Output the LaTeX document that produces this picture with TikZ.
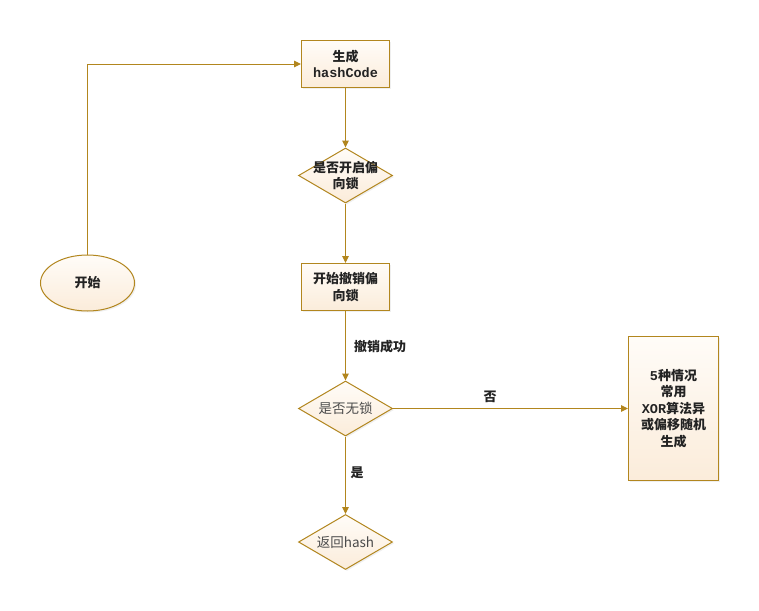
\documentclass[tikz,border=0pt]{standalone}
\usepackage{fontspec}
\newfontfamily\cjk{Noto Sans CJK SC}
\newfontfamily\monof{Liberation Mono}
\usetikzlibrary{shapes.geometric,arrows.meta,shadows}
\definecolor{edge}{RGB}{178,134,30}
\definecolor{creamtop}{RGB}{255,252,248}
\definecolor{creambot}{RGB}{251,236,218}
\definecolor{txt}{RGB}{35,35,35}
\newcommand{\mtx}[1]{{\fontsize{13.5}{16}\selectfont\monof\bfseries #1}}
\tikzset{
  shape base/.style={draw=edge, line width=1pt, top color=creamtop, bottom color=creambot,
    drop shadow={shadow xshift=1.5pt, shadow yshift=-1.5pt, fill=black!12}},
  procbox/.style={shape base, rectangle, minimum width=88pt, minimum height=47pt, inner sep=0pt},
  tallbox/.style={shape base, rectangle, minimum width=90pt, minimum height=144pt, inner sep=0pt},
  dia/.style={shape base, diamond, minimum width=94pt, minimum height=55pt, inner sep=0pt},
  startell/.style={shape base, ellipse, minimum width=94pt, minimum height=56pt, inner sep=0pt},
  boldtxt/.style={font=\fontsize{13}{16.5}\selectfont\cjk\bfseries, text=txt, align=center},
  plaintxt/.style={font=\fontsize{13.5}{16}\selectfont\cjk, text=black!70, align=center},
  conn/.style={draw=edge, line width=1pt, -{Triangle[length=7pt,width=6.5pt]}},
  lbl/.style={font=\fontsize{13}{16}\selectfont\cjk\bfseries, text=txt}
}
\begin{document}
\begin{tikzpicture}[x=1pt,y=-1pt]
\useasboundingbox (0,0) rectangle (759,610);
% shapes
\node[procbox] (hc) at (345.5,64) {};
\node[boldtxt] (hct) at (hc) {生成\\\mtx{hashCode}};
\node[dia] (d1) at (345.5,175.5) {};
\node[boldtxt] (d1t) at (d1) {是否开启偏\\向锁};
\node[procbox] (rev) at (345.5,287) {};
\node[boldtxt] (revt) at (rev) {开始撤销偏\\向锁};
\node[dia] (d2) at (345.5,408.5) {};
\node[plaintxt] (d2t) at (d2) {是否无锁};
\node[tallbox] (rb) at (673.5,408.5) {};
\node[boldtxt] (rbt) at (rb) {\mtx{5}种情况\\常用\\\mtx{XOR}算法异\\或偏移随机\\生成};
\node[dia] (d3) at (345.5,542) {};
\node[plaintxt] (d3t) at (d3) {返回hash};
\node[startell] (st) at (87.5,283) {};
\node[boldtxt] (stt) at (st) {开始};
% connectors
\draw[conn] (st.north) |- (hc.west);
\draw[conn] (hc.south) -- (d1.north);
\draw[conn] (d1.south) -- (rev.north);
\draw[conn] (rev.south) -- (d2.north);
\draw[conn] (d2.east) -- (rb.west);
\draw[conn] (d2.south) -- (d3.north);
% labels
\node[lbl] (l1) at (380,347) {撤销成功};
\node[lbl] (l2) at (490,397) {否};
\node[lbl] (l3) at (357,473) {是};
\end{tikzpicture}
\end{document}
